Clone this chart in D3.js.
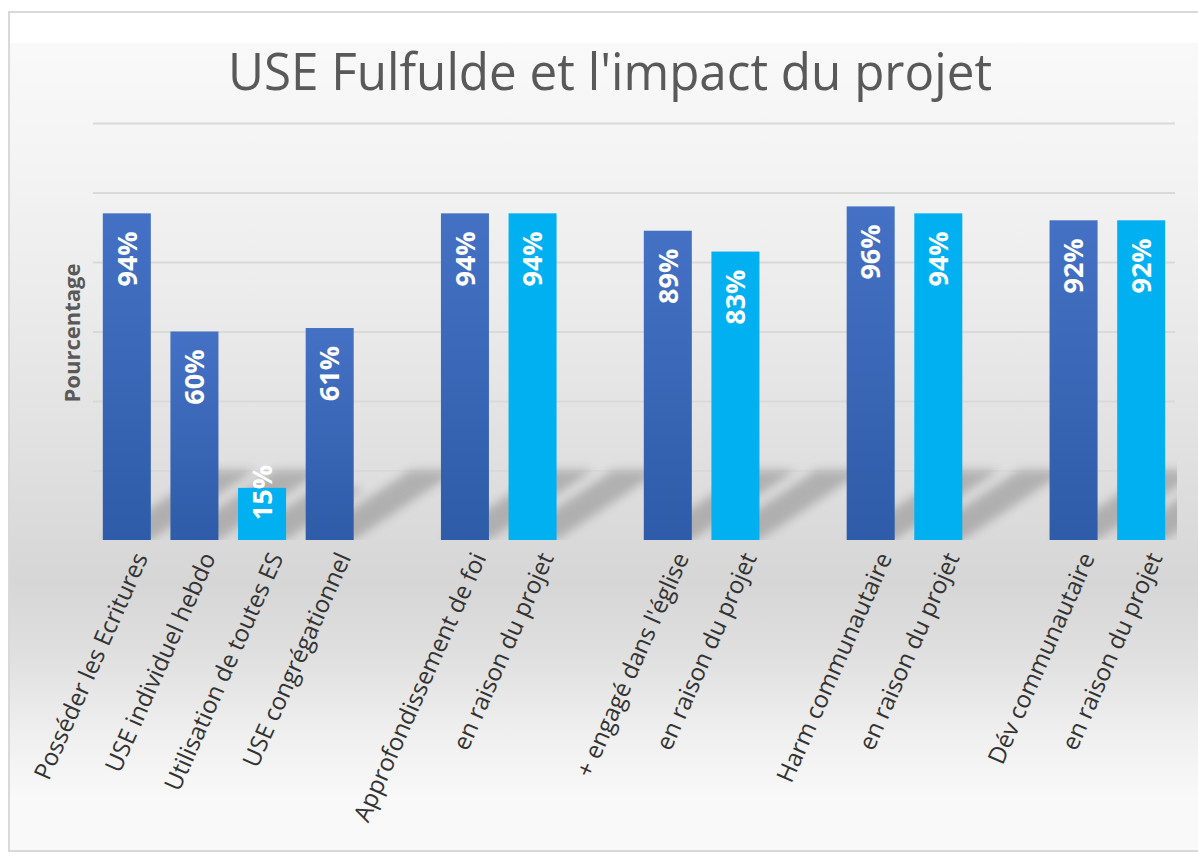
<!DOCTYPE html>
<html>
<head>
<meta charset="utf-8">
<script src="https://cdn.jsdelivr.net/npm/d3@7"></script>
<style>
  body { margin: 0; background: #ffffff; }
  svg { display: block; }
</style>
</head>
<body>
<svg width="1198" height="857"></svg>
<script>
// Chart data (blank entries are the gaps between groups)
const categories = [
    "Posséder les Ecritures", "USE individuel hebdo", "Utilisation de toutes ES", "USE congrégationnel", "",
    "Approfondissement de foi", "en raison du projet", "",
    "+ engagé dans l'église", "en raison du projet", "",
    "Harm communautaire", "en raison du projet", "",
    "Dév communautaire", "en raison du projet"
];
const values = [94, 60, 15, 61, null, 94, 94, null, 89, 83, null, 96, 94, null, 92, 92];
const groups = ["usage", "usage", "projet", "usage", null, "usage", "projet", null,
    "usage", "projet", null, "usage", "projet", null, "usage", "projet"];
const yTicks = [0, 20, 40, 60, 80, 100, 120];

const TITLE = "USE Fulfulde et l'impact du projet";
const Y_LABEL = "Pourcentage";

// Chart constants
const svg = d3.select("svg");
const plot = { left: 93, right: 1175, top: 123, bottom: 540 };

// Background frame
const defs = svg.append("defs");
const bg = defs.append("linearGradient")
    .attr("id", "bg").attr("x1", 0).attr("y1", 0).attr("x2", 0).attr("y2", 1);
[[0, "#f9f9f9"], [0.15, "#f4f4f4"], [0.35, "#ebebeb"], [0.55, "#e0e0e0"], [0.72, "#d6d6d6"],
 [0.82, "#e0e0e0"], [0.92, "#efefef"], [1, "#f8f8f8"]]
    .forEach(s => bg.append("stop").attr("offset", s[0]).attr("stop-color", s[1]));

const barGrad = defs.append("linearGradient")
    .attr("id", "barDark").attr("x1", 0).attr("y1", 0).attr("x2", 0).attr("y2", 1);
barGrad.append("stop").attr("offset", 0).attr("stop-color", "#4471c4");
barGrad.append("stop").attr("offset", 1).attr("stop-color", "#2f5ca8");

const blur = defs.append("filter").attr("id", "blur")
    .attr("x", "-30%").attr("y", "-30%").attr("width", "160%").attr("height", "160%");
blur.append("feGaussianBlur").attr("stdDeviation", 5);

defs.append("clipPath").attr("id", "plotClip")
    .append("rect")
    .attr("x", plot.left).attr("y", plot.top)
    .attr("width", plot.right - plot.left + 2).attr("height", plot.bottom - plot.top);

svg.append("rect")
    .attr("x", 9).attr("y", 12).attr("width", 1200).attr("height", 839)
    .attr("fill", "#ffffff").attr("stroke", "#d9d9d9").attr("stroke-width", 2);
svg.append("rect")
    .attr("x", 10).attr("y", 43).attr("width", 1190).attr("height", 750)
    .attr("fill", "url(#bg)");
svg.append("rect")
    .attr("x", 10).attr("y", 793).attr("width", 1190).attr("height", 57)
    .attr("fill", "#f9f9f9");

// Scales
const x = d3.scaleBand()
    .domain(d3.range(categories.length))
    .range([plot.left, plot.right])
    .paddingInner(0.29)
    .paddingOuter(0.145);

const y = d3.scaleLinear()
    .domain([0, 120])
    .range([plot.bottom, plot.top]);

// Gridlines
svg.append("g")
    .attr("transform", `translate(${plot.left},0)`)
    .call(d3.axisLeft(y).tickValues(yTicks).tickSize(-(plot.right - plot.left)).tickFormat(""))
    .call(g => g.select(".domain").remove())
    .call(g => g.selectAll(".tick line").attr("stroke", "#d9d9d9").attr("stroke-width", 2));

// Title
svg.append("text")
    .attr("x", 610).attr("y", 90)
    .attr("text-anchor", "middle")
    .attr("textLength", 764)
    .attr("lengthAdjust", "spacingAndGlyphs")
    .style("font-family", "'Open Sans', sans-serif")
    .style("font-size", "52px")
    .style("fill", "#595959")
    .text(TITLE);

// Y label
svg.append("text")
    .attr("transform", "translate(80,333) rotate(-90)")
    .attr("text-anchor", "middle")
    .style("font-family", "'Open Sans', sans-serif")
    .style("font-size", "22px")
    .style("font-weight", "bold")
    .style("fill", "#595959")
    .text(Y_LABEL);

const bars = d3.range(categories.length).filter(i => values[i] != null);

// Shadows behind the bars
svg.append("g")
    .attr("clip-path", "url(#plotClip)")
    .selectAll("polygon")
    .data(bars)
    .enter()
    .append("polygon")
    .attr("points", i => {
        const x0 = x(i), x1 = x(i) + x.bandwidth();
        const h = Math.min(70, y(0) - y(values[i]));
        const dx = h * 1.5;
        return [[x0, y(0)], [x1, y(0)], [x1 + dx, y(0) - h], [x0 + dx, y(0) - h]].join(" ");
    })
    .attr("fill", "#7a7a7a")
    .attr("opacity", 0.45)
    .attr("filter", "url(#blur)");

// Bars
svg.append("g")
    .selectAll("rect")
    .data(bars)
    .enter()
    .append("rect")
    .attr("x", i => x(i))
    .attr("y", i => y(values[i]))
    .attr("width", x.bandwidth())
    .attr("height", i => y(0) - y(values[i]))
    .attr("fill", i => groups[i] === "projet" ? "#00b0f0" : "url(#barDark)");

// Value labels
svg.append("g")
    .selectAll("text")
    .data(bars)
    .enter()
    .append("text")
    .attr("transform", i => {
        const cx = x(i) + x.bandwidth() / 2;
        const ty = Math.min(y(values[i]) + 18, y(0) - 75);
        return `translate(${cx},${ty}) rotate(-90)`;
    })
    .attr("text-anchor", "end")
    .attr("dy", "0.36em")
    .style("font-family", "'Open Sans', sans-serif")
    .style("font-size", "27px")
    .style("font-weight", "bold")
    .style("fill", "#ffffff")
    .text(i => values[i] + "%");

// Category axis
svg.append("g")
    .attr("transform", `translate(0,${plot.bottom})`)
    .call(d3.axisBottom(x).tickSize(0).tickFormat(i => categories[i]))
    .call(g => g.select(".domain").remove())
    .call(g => g.selectAll(".tick text")
        .attr("transform", "translate(14,14) rotate(-66)")
        .attr("x", 0).attr("y", 0)
        .attr("dy", "0.35em")
        .attr("text-anchor", "end")
        .style("font-family", "'Open Sans', sans-serif")
        .style("font-size", "24px")
        .style("fill", "#333333"));
</script>
</body>
</html>
